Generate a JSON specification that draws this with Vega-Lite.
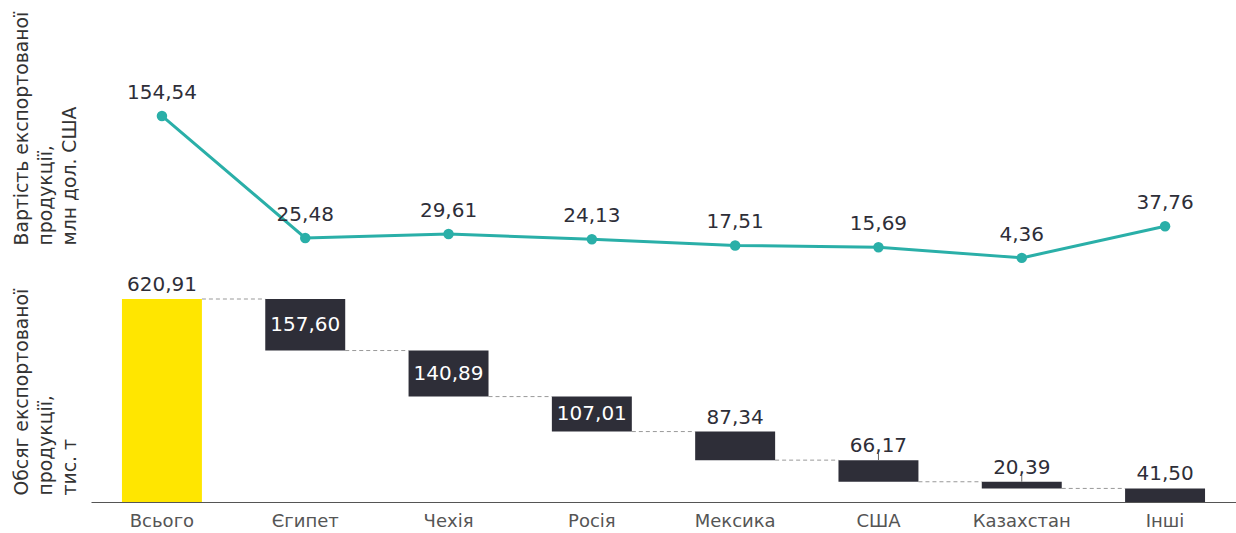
{
  "$schema": "https://vega.github.io/schema/vega-lite/v6.json",
  "padding": {"left": 12, "top": 5, "right": 1, "bottom": 0},
  "config": {
    "view": {"stroke": null},
    "font": "DejaVu Sans",
    "locale": {"number": {"decimal": ",", "thousands": " ", "grouping": [3], "currency": ["", ""]}}
  },
  "datasets": {
    "d": [
      {"cat": "Всього", "usd": 154.54, "volume": 620.91, "start": 620.91, "end": 0, "kind": "total", "next": "Єгипет", "level": 620.91},
      {"cat": "Єгипет", "usd": 25.48, "volume": 157.60, "start": 620.91, "end": 463.31, "kind": "step", "next": "Чехія", "level": 463.31},
      {"cat": "Чехія", "usd": 29.61, "volume": 140.89, "start": 463.31, "end": 322.42, "kind": "step", "next": "Росія", "level": 322.42},
      {"cat": "Росія", "usd": 24.13, "volume": 107.01, "start": 322.42, "end": 215.41, "kind": "step", "next": "Мексика", "level": 215.41},
      {"cat": "Мексика", "usd": 17.51, "volume": 87.34, "start": 215.41, "end": 128.07, "kind": "step", "next": "США", "level": 128.07},
      {"cat": "США", "usd": 15.69, "volume": 66.17, "start": 128.07, "end": 61.90, "kind": "step", "next": "Казахстан", "level": 61.90},
      {"cat": "Казахстан", "usd": 4.36, "volume": 20.39, "start": 61.90, "end": 41.51, "kind": "step", "next": "Інші", "level": 41.51},
      {"cat": "Інші", "usd": 37.76, "volume": 41.50, "start": 41.50, "end": 0, "kind": "step", "next": null, "level": null}
    ]
  },
  "spacing": 0,
  "resolve": {"scale": {"x": "shared", "y": "independent"}},
  "vconcat": [
    {
      "width": 1145,
      "height": 257,
      "data": {"name": "d"},
      "encoding": {
        "x": {"field": "cat", "type": "nominal", "sort": null, "scale": {"paddingInner": 0.442, "paddingOuter": 0.216}, "axis": null},
        "y": {
          "field": "usd", "type": "quantitative", "scale": {"domain": [0, 272]},
          "axis": {
            "title": ["Вартість експортованої", "продукції,", "млн дол. США"],
            "labels": false, "ticks": false, "domain": false, "grid": false,
            "titleFont": "DejaVu Sans", "titleFontSize": 18.8, "titleFontWeight": "normal", "titleColor": "#333333",
            "titleAngle": -90, "titleAlign": "left", "titleBaseline": "top",
            "titleX": -79, "titleY": 240, "titleLineHeight": 24
          }
        }
      },
      "layer": [
        {"mark": {"type": "line", "color": "#2AAFA8", "strokeWidth": 3}},
        {"mark": {"type": "point", "filled": true, "opacity": 1, "color": "#2AAFA8", "size": 110}},
        {"mark": {"type": "text", "fontSize": 20, "color": "#2E2E38", "baseline": "alphabetic", "dy": -17},
         "encoding": {"text": {"field": "usd", "type": "quantitative", "format": ".2f"}}}
      ]
    },
    {
      "width": 1145,
      "height": 238,
      "data": {"name": "d"},
      "encoding": {
        "x": {
          "field": "cat", "type": "nominal", "sort": null, "scale": {"paddingInner": 0.442, "paddingOuter": 0.216},
          "axis": {"title": null, "labelAngle": 0, "labelFontSize": 18, "labelColor": "#555555", "labelPadding": 10, "ticks": false, "domainColor": "#555555", "labelFont": "DejaVu Sans"}
        }
      },
      "layer": [
        {
          "transform": [{"filter": "datum.next != null"}],
          "mark": {"type": "rule", "color": "#999999", "strokeWidth": 1, "strokeDash": [4, 3]},
          "encoding": {
            "x": {"field": "cat", "type": "nominal", "sort": null, "bandPosition": 1},
            "x2": {"field": "next", "bandPosition": 0},
            "y": {"field": "level", "type": "quantitative", "scale": {"domain": [0, 728]}}
          }
        },
        {
          "mark": {"type": "bar"},
          "encoding": {
            "y": {
              "field": "start", "type": "quantitative", "scale": {"domain": [0, 728]},
              "axis": {
                "title": ["Обсяг експортованої", "продукції,", "тис. т"],
                "labels": false, "ticks": false, "domain": false, "grid": false,
                "titleFont": "DejaVu Sans", "titleFontSize": 18.8, "titleFontWeight": "normal", "titleColor": "#333333",
                "titleAngle": -90, "titleAlign": "left", "titleBaseline": "top",
                "titleX": -79, "titleY": 231, "titleLineHeight": 24
              }
            },
            "y2": {"field": "end"},
            "color": {"field": "kind", "type": "nominal", "scale": {"domain": ["total", "step"], "range": ["#FFE600", "#2E2E38"]}, "legend": null}
          }
        },
        {
          "transform": [{"filter": "datum.cat == 'США' || datum.cat == 'Казахстан'"}],
          "mark": {"type": "rule", "color": "#666666", "strokeWidth": 1, "y2Offset": -7},
          "encoding": {
            "y": {"field": "start", "type": "quantitative", "scale": {"domain": [0, 728]}},
            "y2": {"field": "start"}
          }
        },
        {
          "transform": [{"filter": "datum.kind == 'total' || datum.volume < 100"}],
          "mark": {"type": "text", "fontSize": 20, "color": "#2E2E38", "baseline": "alphabetic", "dy": -8},
          "encoding": {
            "y": {"field": "start", "type": "quantitative", "scale": {"domain": [0, 728]}},
            "text": {"field": "volume", "type": "quantitative", "format": ".2f"}
          }
        },
        {
          "transform": [
            {"filter": "datum.kind == 'step' && datum.volume >= 100"},
            {"calculate": "(datum.start + datum.end) / 2", "as": "mid"}
          ],
          "mark": {"type": "text", "fontSize": 20, "color": "#FFFFFF", "baseline": "middle"},
          "encoding": {
            "y": {"field": "mid", "type": "quantitative", "scale": {"domain": [0, 728]}},
            "text": {"field": "volume", "type": "quantitative", "format": ".2f"}
          }
        }
      ]
    }
  ]
}
